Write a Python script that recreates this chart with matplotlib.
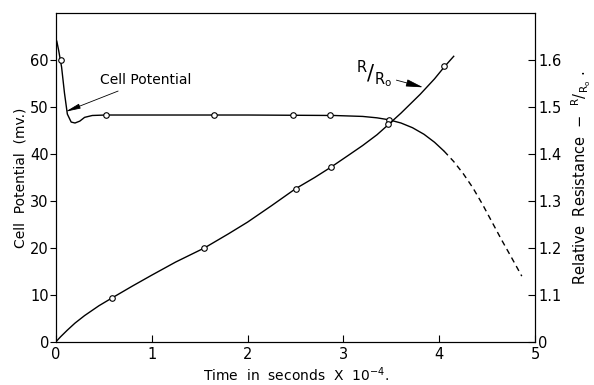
import matplotlib.pyplot as plt

plt.rcParams['font.family'] = ['DejaVu Sans']
plt.rcParams['mathtext.default'] = 'regular'

# cell potential (mV) curve
pot_t = [0.0, 0.01, 0.03, 0.06, 0.09, 0.12, 0.16, 0.2, 0.25, 0.3, 0.38, 0.52,
         1.0, 2.0, 2.9, 3.2, 3.35, 3.47, 3.6, 3.72, 3.84, 3.95, 4.05]
pot_v = [64.5, 64.0, 62.0, 58.5, 53.0, 48.5, 46.8, 46.6, 47.0, 47.8, 48.2, 48.3,
         48.3, 48.3, 48.2, 48.0, 47.7, 47.3, 46.6, 45.6, 44.2, 42.5, 40.6]
# extrapolated (dashed) part
pot_dash_t = [4.05, 4.15, 4.25, 4.35, 4.45, 4.55, 4.65, 4.76, 4.86]
pot_dash_v = [40.6, 38.4, 35.8, 32.8, 29.3, 25.5, 21.7, 17.7, 14.0]
# measured points
pot_pts_t = [0.05, 0.52, 1.65, 2.47, 2.86, 3.47]
pot_pts_v = [60.0, 48.3, 48.3, 48.3, 48.3, 47.3]

# relative resistance R/Ro
res_t = [0.0, 0.05, 0.12, 0.2, 0.3, 0.45, 0.59, 0.8, 1.0, 1.25, 1.55, 1.8,
         2.0, 2.25, 2.5, 2.7, 2.87, 3.05, 3.2, 3.35, 3.46, 3.6, 3.8, 3.95,
         4.05, 4.15]
res_v = [1.0, 1.011, 1.025, 1.040, 1.056, 1.077, 1.094, 1.119, 1.142, 1.170,
         1.200, 1.230, 1.255, 1.290, 1.326, 1.350, 1.372, 1.397, 1.418, 1.441,
         1.461, 1.487, 1.527, 1.560, 1.585, 1.608]
res_pts_t = [0.59, 1.55, 2.50, 2.87, 3.46, 4.05]
res_pts_v = [1.094, 1.20, 1.326, 1.372, 1.464, 1.587]

left_ticks = [0, 10, 20, 30, 40, 50, 60]
right_ticks = [1.0, 1.1, 1.2, 1.3, 1.4, 1.5, 1.6]
right_labels = ["0", "1.1", "1.2", "1.3", "1.4", "1.5", "1.6"]
x_ticks = [0, 1, 2, 3, 4, 5]

fig = plt.figure(figsize=(5.94, 3.85), dpi=100)
ax = fig.add_axes([0.094, 0.112, 0.807, 0.854])
ax2 = ax.twinx()

ax.plot(pot_t, pot_v, color='black', lw=1.0)
ax.plot(pot_dash_t, pot_dash_v, color='black', lw=1.0, ls=(0, (4, 3)))
ax.plot(pot_pts_t, pot_pts_v, 'o', ms=4, mfc='white', mec='black', mew=0.8)

ax2.plot(res_t, res_v, color='black', lw=1.0)
ax2.plot(res_pts_t, res_pts_v, 'o', ms=4, mfc='white', mec='black', mew=0.8)

ax.set_xlim(0, 5)
ax.set_ylim(0, 70)
ax2.set_ylim(1.0, 1.7)

ax.set_xticks(x_ticks)
ax.set_yticks(left_ticks)
ax2.set_yticks(right_ticks)
ax2.set_yticklabels(right_labels)

ax.tick_params(axis='x', direction='in', length=5, labelsize=10.5, pad=4)
ax.tick_params(axis='y', direction='out', length=4, labelsize=10.5, pad=1)
ax2.tick_params(axis='y', direction='in', length=5, labelsize=10.5, pad=2)

ax.set_xlabel(r"Time  in  seconds  X  10$^{-4}$.", fontsize=10, labelpad=2)
ax.set_ylabel("Cell  Potential  (mv.)", fontsize=10, labelpad=2)
ax2.set_ylabel(r"Relative  Resistance  $-$  $^{R}/_{R_o}$ .", fontsize=10.5, labelpad=6)

ax.annotate("Cell Potential", xy=(0.1, 49.0), xytext=(0.46, 55.7),
            fontsize=10, va='center', ha='left',
            arrowprops=dict(arrowstyle='-|>,head_length=0.9,head_width=0.15',
                            lw=0.6, color='black', shrinkA=2, shrinkB=0))

ax.annotate(r"$^{R}/_{R_o}$", xy=(3.83, 54.2), xytext=(3.32, 57.0),
            fontsize=15, va='center', ha='center',
            arrowprops=dict(arrowstyle='-|>,head_length=0.7,head_width=0.15',
                            lw=0.6, color='black', shrinkA=1, shrinkB=0))

fig.savefig("out.png", dpi=100)
